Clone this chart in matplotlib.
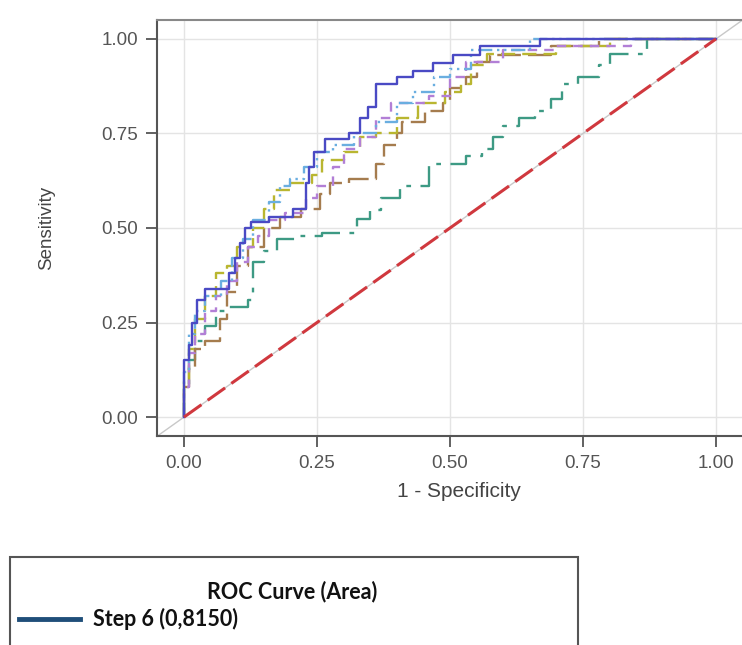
import matplotlib
matplotlib.use("Agg")
import matplotlib.pyplot as plt
from matplotlib.patches import Rectangle
from matplotlib.lines import Line2D

plt.rcParams['font.family'] = ['Liberation Sans', 'DejaVu Sans']

# ROC points (1 - specificity, sensitivity)
step6_fpr = [0, 0, 0.01, 0.01, 0.015, 0.015, 0.025, 0.025, 0.04, 0.04, 0.085, 0.085, 0.095, 0.095,
             0.105, 0.105, 0.115, 0.115, 0.125, 0.125, 0.16, 0.16, 0.205, 0.205, 0.23, 0.23, 0.235,
             0.235, 0.245, 0.245, 0.265, 0.265, 0.31, 0.31, 0.33, 0.33, 0.345, 0.345, 0.36, 0.36,
             0.40, 0.40, 0.43, 0.43, 0.468, 0.468, 0.506, 0.506, 0.556, 0.556, 0.67, 0.67, 1]
step6_tpr = [0, 0.15, 0.15, 0.19, 0.19, 0.25, 0.25, 0.31, 0.31, 0.34, 0.34, 0.38, 0.38, 0.42,
             0.42, 0.46, 0.46, 0.50, 0.50, 0.515, 0.515, 0.53, 0.53, 0.55, 0.55, 0.62, 0.62,
             0.66, 0.66, 0.70, 0.70, 0.735, 0.735, 0.75, 0.75, 0.79, 0.79, 0.82, 0.82, 0.88,
             0.88, 0.90, 0.90, 0.915, 0.915, 0.937, 0.937, 0.958, 0.958, 0.98, 0.98, 1.0, 1]

lblue_fpr = [0, 0, 0.01, 0.01, 0.02, 0.02, 0.04, 0.04, 0.07, 0.07, 0.09, 0.09, 0.11, 0.11, 0.13,
             0.13, 0.16, 0.16, 0.18, 0.18, 0.20, 0.20, 0.225, 0.225, 0.25, 0.25, 0.28, 0.28, 0.32,
             0.32, 0.36, 0.36, 0.40, 0.40, 0.43, 0.43, 0.47, 0.47, 0.50, 0.50, 0.54, 0.54, 0.65,
             0.65, 1]
lblue_tpr = [0, 0.12, 0.12, 0.22, 0.22, 0.28, 0.28, 0.32, 0.32, 0.36, 0.36, 0.42, 0.42, 0.47, 0.47,
             0.52, 0.52, 0.57, 0.57, 0.61, 0.61, 0.63, 0.63, 0.66, 0.66, 0.70, 0.70, 0.72, 0.72,
             0.75, 0.75, 0.78, 0.78, 0.83, 0.83, 0.86, 0.86, 0.90, 0.90, 0.92, 0.92, 0.97, 0.97,
             1.0, 1]

purple_fpr = [0, 0, 0.01, 0.01, 0.02, 0.02, 0.04, 0.04, 0.06, 0.06, 0.08, 0.08, 0.10, 0.10, 0.12,
              0.12, 0.14, 0.14, 0.16, 0.16, 0.19, 0.19, 0.23, 0.23, 0.25, 0.25, 0.28, 0.28, 0.30,
              0.30, 0.33, 0.33, 0.36, 0.36, 0.39, 0.39, 0.46, 0.46, 0.50, 0.50, 0.53, 0.53, 0.60,
              0.60, 0.70, 0.70, 0.84, 0.84, 1]
purple_tpr = [0, 0.08, 0.08, 0.17, 0.17, 0.22, 0.22, 0.28, 0.28, 0.32, 0.32, 0.36, 0.36, 0.41, 0.41,
              0.45, 0.45, 0.48, 0.48, 0.52, 0.52, 0.54, 0.54, 0.58, 0.58, 0.61, 0.61, 0.66, 0.66,
              0.71, 0.71, 0.74, 0.74, 0.79, 0.79, 0.83, 0.83, 0.85, 0.85, 0.90, 0.90, 0.94, 0.94,
              0.97, 0.97, 0.98, 0.98, 1.0, 1]

olive_fpr = [0, 0, 0.01, 0.01, 0.02, 0.02, 0.04, 0.04, 0.06, 0.06, 0.08, 0.08, 0.10, 0.10, 0.13,
             0.13, 0.15, 0.15, 0.17, 0.17, 0.20, 0.20, 0.24, 0.24, 0.26, 0.26, 0.30, 0.30, 0.33,
             0.33, 0.36, 0.36, 0.40, 0.40, 0.44, 0.44, 0.49, 0.49, 0.52, 0.52, 0.54, 0.54, 0.57,
             0.57, 0.70, 0.70, 0.80, 0.80, 1]
olive_tpr = [0, 0.10, 0.10, 0.18, 0.18, 0.26, 0.26, 0.32, 0.32, 0.38, 0.38, 0.40, 0.40, 0.45, 0.45,
             0.50, 0.50, 0.55, 0.55, 0.60, 0.60, 0.62, 0.62, 0.64, 0.64, 0.68, 0.68, 0.70, 0.70,
             0.74, 0.74, 0.75, 0.75, 0.79, 0.79, 0.83, 0.83, 0.86, 0.86, 0.88, 0.88, 0.93, 0.93,
             0.96, 0.96, 0.98, 0.98, 1.0, 1]

brown_fpr = [0, 0, 0.01, 0.01, 0.02, 0.02, 0.04, 0.04, 0.068, 0.068, 0.08, 0.08, 0.10, 0.10, 0.12,
             0.12, 0.15, 0.15, 0.18, 0.18, 0.22, 0.22, 0.255, 0.255, 0.275, 0.275, 0.31, 0.31,
             0.36, 0.36, 0.375, 0.375, 0.40, 0.40, 0.41, 0.41, 0.453, 0.453, 0.487, 0.487, 0.50,
             0.50, 0.53, 0.53, 0.55, 0.55, 0.575, 0.575, 0.69, 0.69, 0.78, 0.78, 1]
brown_tpr = [0, 0.08, 0.08, 0.13, 0.13, 0.18, 0.18, 0.20, 0.20, 0.26, 0.26, 0.33, 0.33, 0.40, 0.40,
             0.45, 0.45, 0.50, 0.50, 0.53, 0.53, 0.55, 0.55, 0.59, 0.59, 0.62, 0.62, 0.63, 0.63,
             0.67, 0.67, 0.72, 0.72, 0.75, 0.75, 0.78, 0.78, 0.81, 0.81, 0.83, 0.83, 0.87, 0.87,
             0.90, 0.90, 0.94, 0.94, 0.958, 0.958, 0.98, 0.98, 1.0, 1]

teal_fpr = [0, 0, 0.01, 0.01, 0.02, 0.02, 0.04, 0.04, 0.06, 0.06, 0.08, 0.08, 0.12, 0.12, 0.13,
            0.13, 0.15, 0.15, 0.175, 0.175, 0.21, 0.21, 0.26, 0.26, 0.325, 0.325, 0.35, 0.35,
            0.37, 0.37, 0.406, 0.406, 0.46, 0.46, 0.53, 0.53, 0.56, 0.56, 0.58, 0.58, 0.60, 0.60,
            0.63, 0.63, 0.66, 0.66, 0.69, 0.69, 0.71, 0.71, 0.74, 0.74, 0.78, 0.78, 0.80, 0.80,
            0.87, 0.87, 1]
teal_tpr = [0, 0.08, 0.08, 0.15, 0.15, 0.20, 0.20, 0.24, 0.24, 0.28, 0.28, 0.29, 0.29, 0.31, 0.31,
            0.41, 0.41, 0.44, 0.44, 0.47, 0.47, 0.48, 0.48, 0.487, 0.487, 0.525, 0.525, 0.548,
            0.548, 0.58, 0.58, 0.61, 0.61, 0.67, 0.67, 0.69, 0.69, 0.71, 0.71, 0.74, 0.74, 0.77,
            0.77, 0.79, 0.79, 0.81, 0.81, 0.84, 0.84, 0.88, 0.88, 0.90, 0.90, 0.93, 0.93, 0.96,
            0.96, 1.0, 1]

ref_x = [0, 1]
ticks = [0.0, 0.25, 0.5, 0.75, 1.0]
tick_labels = ["0.00", "0.25", "0.50", "0.75", "1.00"]
legend_title = "ROC Curve (Area)"
legend_label = "Step 6"
legend_area = "0,8150"

fig = plt.figure(figsize=(7.42, 6.45), dpi=100)
ax = fig.add_axes([157.4 / 742, 209 / 645, 585.2 / 742, 416 / 645])

ax.set_xlim(-0.05, 1.05)
ax.set_ylim(-0.05, 1.05)
ax.grid(True, color="#e4e4e4", lw=1)
ax.set_axisbelow(True)

# grey diagonal across the whole frame
ax.plot([-0.05, 1.05], [-0.05, 1.05], color="#c8c8c8", lw=1, zorder=1)

ax.plot(teal_fpr, teal_tpr, color="#3d9a84", lw=1.7, dashes=(12, 4, 2, 4), zorder=2)
ax.plot(brown_fpr, brown_tpr, color="#a57c4e", lw=1.7, dashes=(10, 3), zorder=2)
ax.plot(olive_fpr, olive_tpr, color="#b9b630", lw=1.7, dashes=(6, 3), zorder=2)
ax.plot(purple_fpr, purple_tpr, color="#b27fd6", lw=1.7, dashes=(4, 3), zorder=2)
ax.plot(lblue_fpr, lblue_tpr, color="#6aaee0", lw=1.7, dashes=(6, 2, 1, 2, 1, 2), zorder=2)
ax.plot(step6_fpr, step6_tpr, color="#4a4ac4", lw=1.7, zorder=3)
ax.plot(ref_x, ref_x, color="#d0383e", lw=2.2, dashes=(7, 2.5), zorder=3)

ax.set_xticks(ticks)
ax.set_xticklabels(tick_labels)
ax.set_yticks(ticks)
ax.set_yticklabels(tick_labels)
ax.tick_params(direction="out", length=8, width=1.3, color="#555555",
               labelcolor="#555555", labelsize=13.5, pad=6)
for s in ["left", "bottom", "top"]:
    ax.spines[s].set_color("#555555")
    ax.spines[s].set_linewidth(1.5)
ax.spines["top"].set_color("#888888")
ax.spines["right"].set_visible(False)

ax.set_xlabel("1 - Specificity", fontsize=15, color="#444444", labelpad=7)
ax.xaxis.label.set_x(0.515)
ax.set_ylabel("Sensitivity", fontsize=13.5, color="#444444", labelpad=33)

# legend box below the plot
fig.patches.append(Rectangle((10 / 742, -0.1), 568 / 742, 0.1 + (645 - 557) / 645,
                             transform=fig.transFigure, fill=False,
                             edgecolor="#555555", lw=1.5))
fig.text(292 / 742, 1 - 592 / 645, legend_title, ha="center", va="center",
         fontsize=15.5, fontweight="bold", family="Lato", color="#111111")
fig.lines.append(Line2D([19 / 742, 80 / 742], [1 - 619 / 645, 1 - 619 / 645],
                        transform=fig.transFigure, color="#1f4e79", lw=3.5))
fig.text(93 / 742, 1 - 619 / 645, f"{legend_label} ({legend_area})", ha="left",
         va="center", fontsize=15.5, fontweight="bold", family="Lato", color="#111111")

fig.savefig("out.png", dpi=100)
